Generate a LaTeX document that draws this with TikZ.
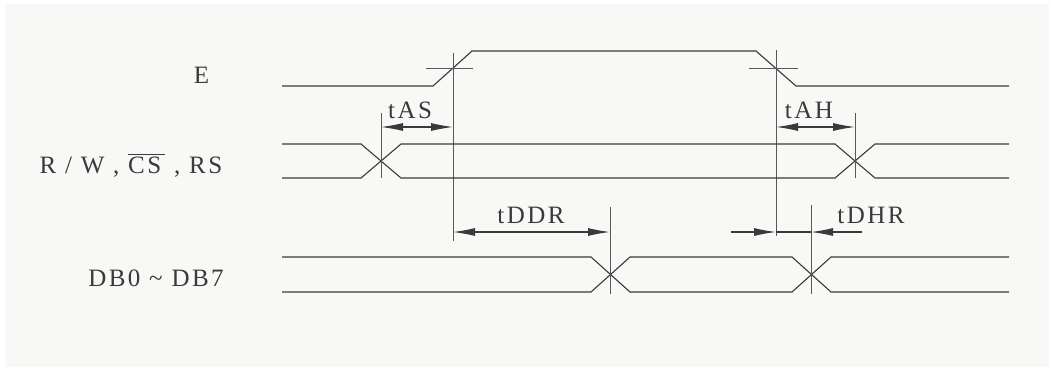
\documentclass[tikz,border=0pt]{standalone}
\usepackage{fontspec}
\setmainfont{Liberation Serif}[LetterSpace=10]
\usepackage{xcolor}
\usetikzlibrary{arrows.meta,positioning,calc}
\definecolor{paper}{HTML}{F8F8F6}
\definecolor{ink}{HTML}{3A3A3A}

\begin{document}
\begin{tikzpicture}[
    x=0.5pt, y=-0.5pt,
    wave/.style={draw=ink, line width=0.55pt},
    guide/.style={draw=ink!85, line width=0.5pt},
    dim/.style={draw=ink, line width=0.55pt},
    tip/.style={-{Latex[length=11pt,width=4pt]}},
    sig label/.style={font=\fontsize{12.5}{14}\selectfont, text=ink, inner sep=0pt},
    time label/.style={font=\fontsize{12.5}{14}\selectfont, text=ink, inner sep=0pt}
]
    \useasboundingbox (0,0) rectangle (1052,370);
    \fill[white] (0,0) rectangle (1052,370);
    \fill[paper] (5,4) rectangle (1049,367);

    % signal names
    \node[sig label] (nameE) at (201.5,75) {E};
    \node[sig label] (nameRW) at (131,165) {R / W , $\overline{\mbox{CS\,}}$ , RS};
    \node[sig label] (nameDB) at (156,278) {DB0 \char"007E{} DB7};

    % edge points
    \coordinate (Eup) at (453,68);
    \coordinate (Edown) at (776,68);
    \coordinate (RWa) at (381,161);
    \coordinate (RWb) at (855,161);
    \coordinate (DBa) at (610,275);
    \coordinate (DBb) at (811,275);

    % E
    \draw[wave] (282,86) -- (433,86) -- (472,51) -- (756,51) -- (796,86) -- (1009,86);
    \draw[guide] (426,68) -- (473,68);
    \draw[guide] (749,68) -- (798,68);
    \draw[guide] (453,53) -- (453,241);
    \draw[guide] (776,50) -- (776,236);

    % R/W, CS, RS
    \draw[wave] (282,144) -- (361,144) -- (401,178) -- (835,178) -- (875,144) -- (1009,144);
    \draw[wave] (282,178) -- (361,178) -- (401,144) -- (835,144) -- (875,178) -- (1009,178);
    \draw[guide] (381,113) -- (381,178);
    \draw[guide] (855,113) -- (855,178);

    % DB0 ~ DB7
    \draw[wave] (282,257) -- (591,257) -- (630,292) -- (792,292) -- (831,257) -- (1009,257);
    \draw[wave] (282,292) -- (591,292) -- (630,257) -- (792,257) -- (831,292) -- (1009,292);
    \draw[guide] (610,207) -- (610,294);
    \draw[guide] (811,205) -- (811,294);

    % timing marks
    \coordinate (tASl) at (RWa |- 0,127);
    \coordinate (tASr) at (Eup |- 0,127);
    \draw[dim, tip] ($(tASl)!0.5!(tASr)$) -- (tASl);
    \draw[dim, tip] ($(tASl)!0.5!(tASr)$) -- (tASr);
    \node[time label] (tAS) at (410,110) {tAS};

    \coordinate (tAHl) at (Edown |- 0,127);
    \coordinate (tAHr) at (RWb |- 0,127);
    \draw[dim, tip] ($(tAHl)!0.5!(tAHr)$) -- (tAHl);
    \draw[dim, tip] ($(tAHl)!0.5!(tAHr)$) -- (tAHr);
    \node[time label] (tAH) at (809,110) {tAH};

    \coordinate (tDDRl) at (Eup |- 0,232);
    \coordinate (tDDRr) at (DBa |- 0,232);
    \draw[dim, tip] ($(tDDRl)!0.5!(tDDRr)$) -- (tDDRl);
    \draw[dim, tip] ($(tDDRl)!0.5!(tDDRr)$) -- (tDDRr);
    \node[time label] (tDDR) at (531,215) {tDDR};

    \coordinate (tDHRl) at (Edown |- 0,232);
    \coordinate (tDHRr) at (DBb |- 0,232);
    \draw[dim, tip] (731,232) -- (tDHRl);
    \draw[dim] (tDHRl) -- (tDHRr);
    \draw[dim, tip] (862,232) -- (tDHRr);
    \node[time label, anchor=west] (tDHR) at (837,215) {tDHR};
\end{tikzpicture}
\end{document}
